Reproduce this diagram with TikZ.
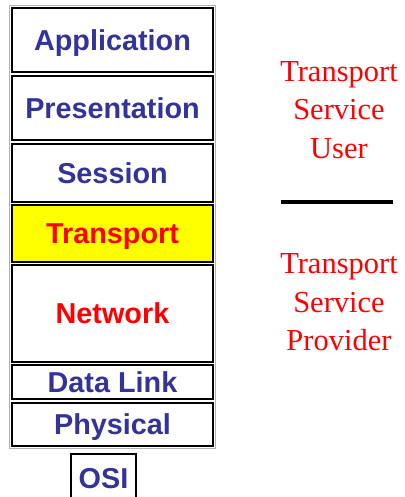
\documentclass[tikz,border=0pt]{standalone}
\usepackage{fontspec}
\setmainfont{Liberation Serif}
\newfontfamily\arialfont{Liberation Sans}
\definecolor{osiblue}{RGB}{51,51,153}
\definecolor{osired}{RGB}{255,0,0}
\definecolor{osiyellow}{RGB}{255,255,0}
\begin{document}
\begin{tikzpicture}[x=1pt,y=-1pt,
  layer/.style={draw=black, line width=2pt, fill=white, minimum width=201pt, inner sep=0pt,
    text height=20.5pt, text depth=0pt,
    font=\arialfont\bfseries\fontsize{28.8}{30}\selectfont, text=osiblue},
  rtext/.style={anchor=base, inner sep=0pt, text=osired, font=\fontsize{30.5}{38}\selectfont}]
\useasboundingbox (0,0) rectangle (404,497);
\fill[white] (0,0) rectangle (404,497);
\draw[gray!60, line width=0.8pt] (9.5,5.5) rectangle (215.5,448);
\node[layer, minimum height=64pt] (app) at (112.5,40.5) {Application};
\node[layer, minimum height=64pt] (pres) at (112.5,108) {Presentation};
\node[layer, minimum height=58pt] (sess) at (112.5,173) {Session};
\node[layer, minimum height=57pt, fill=osiyellow, text=osired] (trans) at (112.5,233.5) {Transport};
\node[layer, minimum height=97pt, text=osired] (net) at (112.5,313.5) {Network};
\node[layer, minimum height=34pt] (dl) at (112.5,382) {Data Link};
\node[layer, minimum height=43pt] (phy) at (112.5,424.5) {Physical};
\node[layer, minimum width=65pt, minimum height=48pt] (osi) at (103.5,478) {OSI};
\node[rtext] (u1) at (339,82) {Transport};
\node[rtext] (u2) at (339,120) {Service};
\node[rtext] (u3) at (339,158) {User};
\draw[line width=4pt] (281,202) -- (393,202);
\node[rtext] (p1) at (339,273) {Transport};
\node[rtext] (p2) at (339,312) {Service};
\node[rtext] (p3) at (339,350) {Provider};
\end{tikzpicture}
\end{document}
